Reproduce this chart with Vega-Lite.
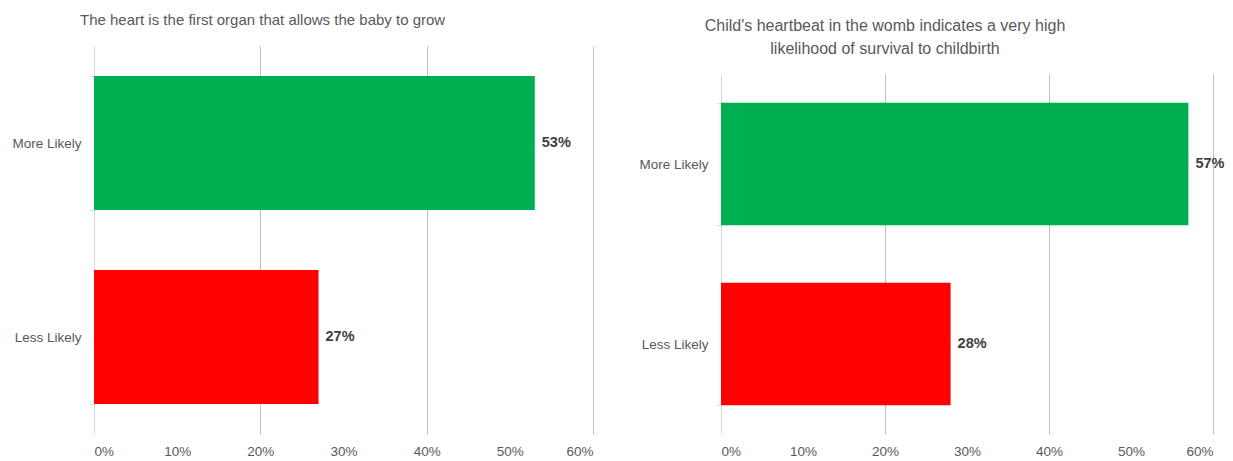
{
  "$schema": "https://vega.github.io/schema/vega-lite/v6.json",
  "background": "white",
  "padding": {"left": 5, "top": 13, "right": 5, "bottom": 0},
  "spacing": 39,
  "config": {
    "view": {"stroke": null},
    "font": "Liberation Sans",
    "axis": {"labelFont": "Liberation Sans", "labelColor": "#595959", "labelFontSize": 13.5},
    "title": {"font": "Liberation Sans", "color": "#595959", "fontWeight": "normal"}
  },
  "datasets": {
    "left": [
      {"category": "More Likely", "value": 0.53},
      {"category": "Less Likely", "value": 0.27}
    ],
    "right": [
      {"category": "More Likely", "value": 0.57},
      {"category": "Less Likely", "value": 0.28}
    ]
  },
  "hconcat": [
    {
      "width": 499,
      "height": 388,
      "data": {"name": "left"},
      "title": {"text": "The heart is the first organ that allows the baby to grow", "anchor": "start", "frame": "group", "dx": -14, "fontSize": 15, "offset": 11},
      "encoding": {
        "y": {"field": "category", "type": "nominal", "sort": ["More Likely", "Less Likely"], "title": null,
          "scale": {"paddingInner": 0.31, "paddingOuter": 0.155},
          "axis": {"minExtent": 89, "maxExtent": 89, "domainColor": "#d9d9d9", "tickColor": "#d9d9d9", "tickSize": 4, "tickBand": "extent", "labelPadding": 9, "grid": false}},
        "x": {"field": "value", "type": "quantitative", "title": null,
          "scale": {"domain": [0, 0.6], "nice": false},
          "axis": {"values": [0, 0.1, 0.2, 0.3, 0.4, 0.5, 0.6], "format": ".0%", "domain": false, "ticks": false, "labelPadding": 10,
            "grid": true, "gridColor": "#bfbfbf",
            "gridOpacity": {"condition": {"test": "round(datum.value*10) % 2 == 0 && datum.value > 0", "value": 1}, "value": 0}}}
      },
      "layer": [
        {"mark": {"type": "bar"},
         "encoding": {"color": {"field": "category", "type": "nominal", "scale": {"domain": ["More Likely", "Less Likely"], "range": ["#00b050", "#ff0000"]}, "legend": null}}},
        {"mark": {"type": "text", "align": "left", "dx": 7, "fontSize": 14.5, "fontWeight": "bold", "color": "#404040"},
         "encoding": {"text": {"field": "value", "type": "quantitative", "format": ".0%"}}}
      ]
    },
    {
      "width": 492,
      "height": 416,
      "data": {"name": "right"},
      "title": {"text": ["Child's heartbeat in the womb indicates a very high", "likelihood of survival to childbirth"], "anchor": "middle", "frame": "group", "dx": -82, "fontSize": 16, "lineHeight": 23, "offset": -18},
      "encoding": {
        "y": {"field": "category", "type": "nominal", "sort": ["More Likely", "Less Likely"], "title": null,
          "scale": {"range": [28, 388], "paddingInner": 0.32, "paddingOuter": 0.16},
          "axis": {"minExtent": 89, "maxExtent": 89, "domainColor": "#d9d9d9", "tickColor": "#d9d9d9", "tickSize": 4, "tickBand": "extent", "labelPadding": 9, "grid": false}},
        "x": {"field": "value", "type": "quantitative", "title": null,
          "scale": {"domain": [0, 0.6], "nice": false},
          "axis": {"values": [0, 0.1, 0.2, 0.3, 0.4, 0.5, 0.6], "format": ".0%", "domain": false, "ticks": false, "labelPadding": 10, "offset": -28,
            "grid": true, "gridColor": "#bfbfbf",
            "gridOpacity": {"condition": {"test": "round(datum.value*10) % 2 == 0 && datum.value > 0", "value": 1}, "value": 0}}}
      },
      "layer": [
        {"mark": {"type": "bar"},
         "encoding": {"color": {"field": "category", "type": "nominal", "scale": {"domain": ["More Likely", "Less Likely"], "range": ["#00b050", "#ff0000"]}, "legend": null}}},
        {"mark": {"type": "text", "align": "left", "dx": 7, "fontSize": 14.5, "fontWeight": "bold", "color": "#404040"},
         "encoding": {"text": {"field": "value", "type": "quantitative", "format": ".0%"}}}
      ]
    }
  ],
  "resolve": {"scale": {"color": "shared"}}
}
